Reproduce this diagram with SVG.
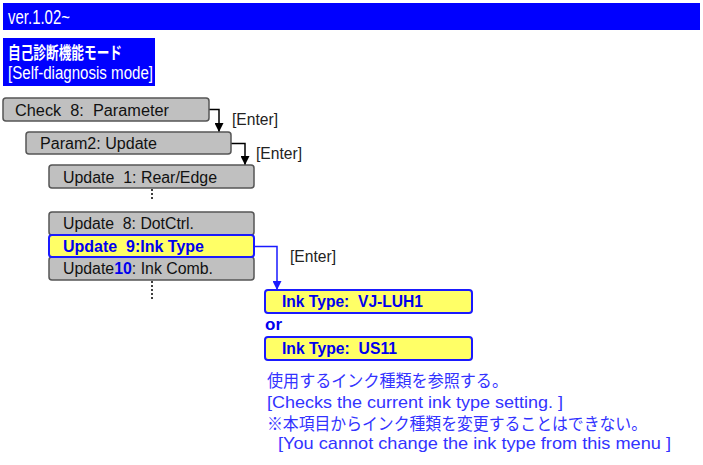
<svg xmlns="http://www.w3.org/2000/svg" width="703" height="465" viewBox="0 0 703 465">
<style>
text{font-family:"Liberation Sans",Arial,"Noto Sans CJK JP",sans-serif;white-space:pre}
.g{fill:#c0c0c0;stroke:#555;stroke-width:1.5}
.y{fill:#ffff66;stroke:#1a1aff;stroke-width:2}
.t{font-size:16px;fill:#111}
.b{font-size:16px;fill:#0000ee;font-weight:bold}
.c{fill:none;stroke:#000;stroke-width:1.5}
.cb{fill:none;stroke:#1a1aff;stroke-width:1.5}
.d{stroke:#000;stroke-width:1.5;stroke-dasharray:2 2}
.e{font-size:16px;fill:#222}
.n{font-size:17px;fill:#3333ff}
</style>
<defs>
<marker id="a1" viewBox="0 0 10 10" refX="10" refY="5" markerWidth="9" markerHeight="9" orient="auto" markerUnits="userSpaceOnUse"><path d="M0,0 L10,5 L0,10 Z" fill="#000"/></marker>
<marker id="a2" viewBox="0 0 10 10" refX="10" refY="5" markerWidth="9" markerHeight="9" orient="auto" markerUnits="userSpaceOnUse"><path d="M0,0 L10,5 L0,10 Z" fill="#1a1aff"/></marker>
</defs>
<g id="header">
<rect x="3" y="3" width="697" height="27" fill="#0000ff"/>
<text x="8" y="24" font-size="20" fill="#fff" textLength="62" lengthAdjust="spacingAndGlyphs">ver.1.02~</text>
</g>
<g id="title">
<rect x="3" y="38" width="152" height="48" fill="#0000ff"/>
<text x="8" y="59" font-size="17" font-weight="bold" fill="#fff" textLength="114" lengthAdjust="spacingAndGlyphs">自己診断機能モード</text>
<text x="8" y="79" font-size="18" fill="#fff" textLength="145" lengthAdjust="spacingAndGlyphs">[Self-diagnosis mode]</text>
</g>
<g id="connectors">
<polyline class="c" points="209,109.5 219,109.5 219,132" marker-end="url(#a1)"/>
<polyline class="c" points="231,143.5 245,143.5 245,165" marker-end="url(#a1)"/>
<line class="d" x1="152" y1="189" x2="152" y2="201"/>
<line class="d" x1="152" y1="281" x2="152" y2="301"/>
<polyline class="cb" points="255,246.5 277,246.5 277,290" marker-end="url(#a2)"/>
<text class="e" x="232" y="125" textLength="46" lengthAdjust="spacingAndGlyphs">[Enter]</text>
<text class="e" x="256" y="159" textLength="46" lengthAdjust="spacingAndGlyphs">[Enter]</text>
<text class="e" x="290" y="262" textLength="46" lengthAdjust="spacingAndGlyphs">[Enter]</text>
</g>
<g id="check8">
<rect class="g" x="3" y="98" width="206" height="23" rx="3"/>
<text class="t" x="15" y="116" textLength="154" lengthAdjust="spacingAndGlyphs">Check  8:  Parameter</text>
</g>
<g id="param2">
<rect class="g" x="26" y="132" width="205" height="22" rx="3"/>
<text class="t" x="40" y="149" textLength="117" lengthAdjust="spacingAndGlyphs">Param2: Update</text>
</g>
<g id="update1">
<rect class="g" x="49" y="165" width="205" height="23" rx="3"/>
<text class="t" x="63" y="183" textLength="154" lengthAdjust="spacingAndGlyphs">Update  1: Rear/Edge</text>
</g>
<g id="update8">
<rect class="g" x="49" y="212" width="205" height="23" rx="3"/>
<text class="t" x="63" y="229" textLength="131" lengthAdjust="spacingAndGlyphs">Update  8: DotCtrl.</text>
</g>
<g id="update10">
<rect class="g" x="49" y="257" width="205" height="23" rx="3"/>
<text class="t" x="63" y="274" textLength="150" lengthAdjust="spacingAndGlyphs">Update<tspan fill="#0000ee" font-weight="bold">10</tspan>: Ink Comb.</text>
</g>
<g id="update9">
<rect class="y" x="49" y="235" width="205" height="22" rx="3"/>
<text class="b" x="63" y="252" textLength="141" lengthAdjust="spacingAndGlyphs">Update  9:Ink Type</text>
</g>
<g id="ink1">
<rect class="y" x="265" y="290" width="207" height="23" rx="3"/>
<text class="b" x="282" y="307" textLength="141" lengthAdjust="spacingAndGlyphs">Ink Type:  VJ-LUH1</text>
</g>
<text class="b" x="265" y="330" textLength="17" lengthAdjust="spacingAndGlyphs">or</text>
<g id="ink2">
<rect class="y" x="265" y="337" width="207" height="23" rx="3"/>
<text class="b" x="282" y="354" textLength="115" lengthAdjust="spacingAndGlyphs">Ink Type:  US11</text>
</g>
<g id="notes">
<text class="n" x="267" y="387" font-size="17" textLength="241" lengthAdjust="spacingAndGlyphs">使用するインク種類を参照する。</text>
<text class="n" x="267" y="408" textLength="296" lengthAdjust="spacingAndGlyphs">[Checks the current ink type setting. ]</text>
<text class="n" x="267" y="430" font-size="17" textLength="380" lengthAdjust="spacingAndGlyphs">※本項目からインク種類を変更することはできない。</text>
<text class="n" x="278" y="449" textLength="393" lengthAdjust="spacingAndGlyphs">[You cannot change the ink type from this menu ]</text>
</g>
</svg>
